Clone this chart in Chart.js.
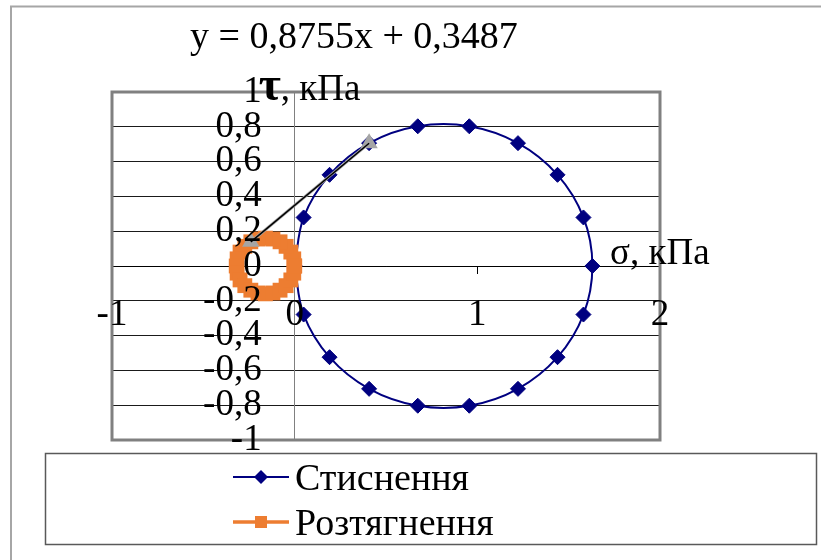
<!DOCTYPE html>
<html>
<head>
<meta charset="utf-8">
<script src="https://cdn.jsdelivr.net/npm/chart.js@4/dist/chart.umd.min.js"></script>
<style>
  html, body { margin: 0; padding: 0; background: #fff; }
  #wrap { width: 821px; height: 560px; }
</style>
</head>
<body>
<div id="wrap"><canvas id="chart" width="821" height="560"></canvas></div>
<script>
// Коло Мора для стиснення (σ, τ), кПа
const compressionX = [0, 0.049, 0.191, 0.4075, 0.674, 0.956, 1.2225, 1.439, 1.581, 1.63,
  1.581, 1.439, 1.2225, 0.956, 0.674, 0.4075, 0.191, 0.049, 0]
const compressionY = [0, 0.279, 0.524, 0.706, 0.803, 0.803, 0.706, 0.524, 0.279, 0,
  -0.279, -0.524, -0.706, -0.803, -0.803, -0.706, -0.524, -0.279, 0]

// Коло Мора для розтягнення
const tensionX = [0, -0.005, -0.021, -0.047, -0.08, -0.119, -0.16, -0.201, -0.24, -0.273, -0.299, -0.315,
  -0.32, -0.315, -0.299, -0.273, -0.24, -0.201, -0.16, -0.119, -0.08, -0.047, -0.021, -0.005, 0]
const tensionY = [0, 0.041, 0.08, 0.113, 0.139, 0.155, 0.16, 0.155, 0.139, 0.113, 0.08, 0.041,
  0, -0.041, -0.08, -0.113, -0.139, -0.155, -0.16, -0.155, -0.139, -0.113, -0.08, -0.041, 0]

// дотична до обох кіл
const tangentX = [-0.24, 0.4075]
const tangentY = [0.139, 0.706]
const trendSlope = 0.8755
const trendIntercept = 0.3487

const xTicks = [-1, 0, 1, 2]
const yTicks = [-1, -0.8, -0.6, -0.4, -0.2, 0, 0.2, 0.4, 0.6, 0.8, 1]
const seriesNames = ['Стиснення', 'Розтягнення']

const serif = "'Liberation Serif', 'Times New Roman', serif"
const NAVY = '#000080'
const ORANGE = '#ED7D31'
const GREY = '#A5A5A5'

const toPoints = (xs, ys) => xs.map((x, i) => ({ x: x, y: ys[i] }))
const fmt = v => String(Math.round(v * 10) / 10).replace('.', ',')
const num = v => v.toFixed(4).replace('.', ',')

const trendPoints = tangentX.map(x => ({ x: x, y: trendSlope * x + trendIntercept }))

// рамки, підписи осей, рівняння та легенда
const decorations = {
  id: 'decorations',
  beforeDraw(chart) {
    const ctx = chart.ctx
    ctx.save()
    ctx.fillStyle = '#fff'
    ctx.fillRect(0, 0, chart.width, chart.height)
    ctx.strokeStyle = '#a6a6a6'
    ctx.lineWidth = 2
    ctx.beginPath()
    ctx.moveTo(11, chart.height)
    ctx.lineTo(11, 6.5)
    ctx.lineTo(chart.width, 6.5)
    ctx.stroke()
    ctx.restore()
  },
  beforeDatasetsDraw(chart) {
    const ctx = chart.ctx
    const a = chart.chartArea
    ctx.save()
    ctx.strokeStyle = '#808080'
    ctx.lineWidth = 3
    ctx.strokeRect(a.left, a.top, a.right - a.left, a.bottom - a.top)
    ctx.restore()
  },
  afterDatasetsDraw(chart) {
    // підписи осі τ ліворуч від вертикальної осі
    const ctx = chart.ctx
    const xs = chart.scales.x
    const ys = chart.scales.y
    const x0 = xs.getPixelForValue(0) - 33
    ctx.save()
    ctx.fillStyle = '#000'
    ctx.font = '37px ' + serif
    ctx.textAlign = 'right'
    ctx.textBaseline = 'middle'
    yTicks.forEach(v => ctx.fillText(fmt(v), x0, ys.getPixelForValue(v)))
    ctx.restore()
  },
  afterDraw(chart) {
    const ctx = chart.ctx
    const xs = chart.scales.x
    const ys = chart.scales.y
    const a = chart.chartArea
    ctx.save()
    ctx.fillStyle = '#000'
    ctx.textBaseline = 'alphabetic'
    ctx.textAlign = 'left'

    // рівняння лінії тренду
    ctx.font = '38px ' + serif
    ctx.fillText('y = ' + num(trendSlope) + 'x + ' + num(trendIntercept), 190, 48)

    // назва осі τ
    const tx = xs.getPixelForValue(0) - 36
    ctx.font = 'bold 48px ' + serif
    ctx.fillText('τ', tx, a.top + 8)
    const tw = ctx.measureText('τ').width
    ctx.font = '37px ' + serif
    ctx.fillText(', кПа', tx + tw, a.top + 8)

    // назва осі σ
    ctx.fillText('σ, кПа', a.right - 50, ys.getPixelForValue(0) - 2)

    // легенда
    ctx.strokeStyle = '#595959'
    ctx.lineWidth = 1.5
    ctx.strokeRect(45.5, 453.5, 771, 91)

    const rows = [
      { y: 477, color: NAVY, width: 2, marker: 'diamond' },
      { y: 522, color: ORANGE, width: 3.5, marker: 'square' }
    ]
    rows.forEach((r, i) => {
      ctx.strokeStyle = r.color
      ctx.lineWidth = r.width
      ctx.beginPath()
      ctx.moveTo(233, r.y)
      ctx.lineTo(289, r.y)
      ctx.stroke()
      ctx.fillStyle = r.color
      ctx.beginPath()
      if (r.marker === 'diamond') {
        ctx.moveTo(261, r.y - 7)
        ctx.lineTo(268, r.y)
        ctx.lineTo(261, r.y + 7)
        ctx.lineTo(254, r.y)
        ctx.closePath()
      } else {
        ctx.rect(255, r.y - 6, 12, 12)
      }
      ctx.fill()
      ctx.fillStyle = '#000'
      ctx.font = '38px ' + serif
      ctx.fillText(seriesNames[i], 295, r.y + 13)
    })
    ctx.restore()
  }
}

const ctx = document.getElementById('chart').getContext('2d')

new Chart(ctx, {
  type: 'scatter',
  data: {
    datasets: [
      {
        label: seriesNames[0],
        data: toPoints(compressionX, compressionY),
        showLine: true,
        borderColor: NAVY,
        backgroundColor: NAVY,
        borderWidth: 2,
        pointStyle: 'rectRot',
        pointRadius: 7.5,
        pointBorderWidth: 1,
        tension: 0.35,
        order: 3
      },
      {
        label: seriesNames[1],
        data: toPoints(tensionX, tensionY),
        showLine: true,
        borderColor: ORANGE,
        backgroundColor: ORANGE,
        borderWidth: 4,
        pointStyle: 'rect',
        pointRadius: 10.5,
        pointBorderWidth: 0,
        tension: 0.35,
        order: 2
      },
      {
        label: 'tangent',
        data: toPoints(tangentX, tangentY),
        showLine: true,
        borderColor: GREY,
        backgroundColor: GREY,
        borderWidth: 3,
        pointStyle: 'triangle',
        pointRadius: 10,
        pointBorderWidth: 0,
        order: 1
      },
      {
        label: 'trend',
        data: trendPoints,
        showLine: true,
        borderColor: '#000',
        borderWidth: 1.5,
        pointRadius: 0,
        order: 0
      }
    ]
  },
  options: {
    responsive: false,
    animation: false,
    devicePixelRatio: 1,
    events: [],
    layout: { padding: { left: 112, top: 92, right: 161, bottom: 120 } },
    plugins: {
      legend: { display: false },
      tooltip: { enabled: false }
    },
    scales: {
      x: {
        type: 'linear',
        min: -1,
        max: 2,
        position: { y: 0 },
        afterBuildTicks: s => { s.ticks = xTicks.map(v => ({ value: v })) },
        ticks: {
          callback: v => fmt(v),
          font: { family: serif, size: 37 },
          color: '#000',
          padding: 20,
          autoSkip: false,
          maxRotation: 0,
          z: 1
        },
        grid: { drawOnChartArea: false, drawTicks: true, tickLength: 7, color: '#000' },
        border: { color: '#000', width: 1 }
      },
      y: {
        type: 'linear',
        min: -1,
        max: 1,
        position: { x: 0 },
        afterBuildTicks: s => { s.ticks = yTicks.map(v => ({ value: v })) },
        ticks: { display: false },
        grid: { color: '#1a1a1a', lineWidth: 1, tickLength: 8 },
        border: { color: '#808080', width: 1 }
      }
    }
  },
  plugins: [decorations]
})
</script>
</body>
</html>
